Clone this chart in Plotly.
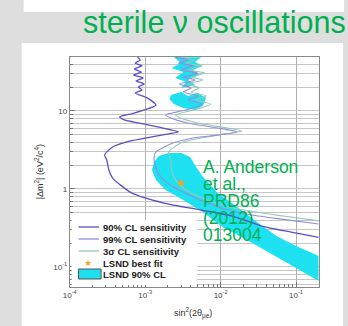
import plotly.graph_objects as go

# ---------------- data (sin^2(2theta), |dm^2| in eV^2) ----------------
sens90_x = [7.9e-4, 8.6e-4, 7.4e-4, 9.1e-4, 7.2e-4, 8.9e-4, 7.0e-4, 9.4e-4, 7.6e-4, 9.7e-4,
            8.1e-4, 9.1e-4, 7.4e-4, 1.06e-3, 1.39e-3, 9.7e-4, 6.6e-4, 4.6e-4, 5.3e-4, 8.4e-4,
            1.52e-3, 2.77e-3, 2.05e-3, 1.13e-3, 6.2e-4, 3.7e-4, 2.9e-4, 3.1e-4, 3.3e-4, 3.7e-4,
            6.6e-4, 1.77e-3, 5.3e-3, 1.43e-2, 3.5e-2, 8.6e-2, 0.2]
sens90_y = [49, 45, 41, 38, 34.5, 31.6, 28.9, 26.5, 24.2, 22.2,
            20.3, 18.6, 17.0, 14.7, 11.9, 10.3, 9.2, 8.4, 7.7, 7.0,
            6.2, 5.4, 5.1, 4.6, 4.1, 3.45, 2.73, 2.35, 1.75, 1.38,
            0.89, 0.66, 0.54, 0.45, 0.335, 0.28, 0.24]

sens99_x = [2.53e-3, 3.7e-3, 2.77e-3, 4.3e-3, 3.0e-3, 5.0e-3, 3.2e-3, 4.6e-3, 2.85e-3, 4.07e-3,
            3.2e-3, 5.0e-3, 3.7e-3, 5.8e-3, 4.3e-3, 3.0e-3, 1.87e-3, 2.38e-3, 4.3e-3, 9.1e-3,
            1.66e-2, 9.1e-3, 4.3e-3, 2.38e-3, 1.39e-3, 1.31e-3, 1.39e-3, 1.66e-3, 2.24e-3, 3.2e-3,
            5.8e-3, 1.16e-2, 2.6e-2, 6.4e-2, 0.2]
sens99_y = [49, 45, 41, 38, 33.5, 30.7, 27.3, 25, 22.2, 19.7,
            17.5, 15.6, 13.8, 12.3, 10.9, 10, 8.9, 7.9, 6.8, 6.05,
            5.4, 4.9, 4.5, 3.9, 2.98, 2.5, 1.86, 1.38, 1.09, 0.915,
            0.70, 0.55, 0.464, 0.41, 0.355]

sens3s_x = [3.0e-3, 4.6e-3, 3.5e-3, 5.5e-3, 3.84e-3, 6.2e-3, 4.07e-3, 5.8e-3, 3.7e-3, 5.2e-3,
            4.07e-3, 6.4e-3, 4.7e-3, 7.4e-3, 5.5e-3, 3.84e-3, 2.53e-3, 3.2e-3, 5.8e-3, 1.23e-2,
            1.93e-2, 1.13e-2, 5.5e-3, 3.0e-3, 2.05e-3, 2.18e-3, 2.24e-3, 2.53e-3, 3.2e-3, 4.3e-3,
            6.8e-3, 1.27e-2, 2.77e-2, 6.8e-2, 0.2]
sens3s_y = [49, 45, 41, 38, 33.5, 30.7, 27.3, 25, 22.2, 19.7,
            17.5, 15.6, 13.8, 12.3, 10.9, 10, 8.9, 7.9, 6.8, 6.05,
            5.5, 5.07, 4.5, 3.9, 2.98, 2.35, 1.75, 1.30, 1.03, 0.86,
            0.72, 0.59, 0.51, 0.45, 0.39]

lsnd_band_x = [1.31e-3, 1.52e-3, 2.05e-3, 3.03e-3, 3.96e-3, 4.73e-3, 5.83e-3, 9.1e-3, 1.66e-2,
               3.03e-2, 5.5e-2, 0.1, 0.2, 0.2, 0.1, 4.7e-2, 2.24e-2, 1.06e-2, 5.8e-3, 3.2e-3,
               1.87e-3, 1.39e-3, 1.23e-3]
lsnd_band_y = [2.22, 2.65, 2.89, 2.89, 2.57, 1.91, 1.43, 0.89, 0.588,
               0.377, 0.25, 0.186, 0.138, 0.066, 0.097, 0.147, 0.222, 0.326, 0.507, 0.72,
               0.97, 1.30, 1.75]

lsnd_blob1_x = [2.2e-3, 3.0e-3, 3.7e-3, 5.0e-3, 6.4e-3, 5.8e-3, 4.6e-3, 3.2e-3, 2.4e-3, 2.1e-3]
lsnd_blob1_y = [16.0, 17.5, 15.6, 17.0, 14.7, 11.6, 10.3, 10.9, 12.3, 14.2]

lsnd_blob2_x = [2.38e-3, 5.5e-3, 4.6e-3, 5.8e-3, 4.3e-3, 5.2e-3, 3.7e-3, 4.6e-3, 3.0e-3,
                3.5e-3, 2.5e-3, 3.2e-3, 2.24e-3, 3.0e-3]
lsnd_blob2_y = [49, 49, 42.5, 37.8, 33.5, 28.9, 25, 21.5, 19.7,
                23.5, 26.5, 31.6, 35.6, 41.2]

best_fit_x = [3.0e-3]
best_fit_y = [1.19]

x_tick_vals = [1e-4, 1e-3, 1e-2, 1e-1]
x_tick_text = ["10<sup>-4</sup>", "10<sup>-3</sup>", "10<sup>-2</sup>", "10<sup>-1</sup>"]
y_tick_vals = [0.1, 1, 10]
y_tick_text = ["10<sup>-1</sup>", "1", "10"]

legend_names = ["90% CL sensitivity", "99% CL sensitivity", "3σ CL sensitivity",
                "LSND best fit", "LSND 90% CL"]

# ---------------- styling ----------------
W, H = 348, 326
C90, C99, C3S = "#5a4fc6", "#8f8fd8", "#93c9b6"
CYAN = "#1de1f0"
ORANGE = "#f2a32a"
GREEN = "#00b050"
BG = "#dedede"
GRID = "#c6c6c6"
FONT = "Liberation Sans, Arial, sans-serif"

def px(x):
    return x / W

def py(y):
    return 1 - y / H

x_minor = [k * d for d in [1e-4, 1e-3, 1e-2, 1e-1] for k in range(2, 10) if k * d <= 0.2]
y_minor = [k * d for d in [0.01, 0.1, 1, 10] for k in range(2, 10) if 0.055 <= k * d <= 49]

fig = go.Figure()

for bx, by in [(lsnd_band_x, lsnd_band_y), (lsnd_blob1_x, lsnd_blob1_y), (lsnd_blob2_x, lsnd_blob2_y)]:
    fig.add_trace(go.Scatter(x=bx, y=by, mode="lines", fill="toself", fillcolor=CYAN,
                             line=dict(width=0, color=CYAN), name=legend_names[4],
                             showlegend=False, hoverinfo="skip"))

fig.add_trace(go.Scatter(x=sens3s_x, y=sens3s_y, mode="lines", name=legend_names[2],
                         line=dict(color=C3S, width=1.1, shape="spline", smoothing=0.6), showlegend=False))
fig.add_trace(go.Scatter(x=sens99_x, y=sens99_y, mode="lines", name=legend_names[1],
                         line=dict(color=C99, width=1.1, shape="spline", smoothing=0.6), showlegend=False))
fig.add_trace(go.Scatter(x=sens90_x, y=sens90_y, mode="lines", name=legend_names[0],
                         line=dict(color=C90, width=1.3, shape="spline", smoothing=0.6), showlegend=False))
fig.add_trace(go.Scatter(x=best_fit_x, y=best_fit_y, mode="markers", name=legend_names[3],
                         marker=dict(symbol="star", size=7, color=ORANGE), showlegend=False))

# axes
x0p, x1p, y0p, y1p = 64, 318, 57, 287
fig.update_layout(
    width=W, height=H, margin=dict(l=0, r=0, t=0, b=0),
    paper_bgcolor=BG, plot_bgcolor="white", showlegend=False,
    font=dict(family=FONT, size=8, color="#444"),
    xaxis=dict(type="log", domain=[px(x0p), px(x1p)], range=[-4, -0.701],
               tickvals=x_tick_vals, ticktext=x_tick_text, ticks="inside", ticklen=5,
               tickcolor="#777", showline=True, linecolor="#888", mirror=True,
               showgrid=True, gridcolor="#b0b0b0", gridwidth=1, zeroline=False,
               tickfont=dict(size=8, color="#444"),
               minor=dict(tickvals=x_minor, ticks="inside", ticklen=3, tickcolor="#777",
                          showgrid=False)),
    yaxis=dict(type="log", domain=[py(y1p), py(y0p)], range=[-1.257, 1.692],
               tickvals=y_tick_vals, ticktext=y_tick_text, ticks="inside", ticklen=5,
               tickcolor="#777", showline=True, linecolor="#888", mirror=True,
               showgrid=True, gridcolor=GRID, gridwidth=1, zeroline=False,
               tickfont=dict(size=8, color="#444"),
               minor=dict(tickvals=y_minor, ticks="inside", ticklen=3, tickcolor="#777",
                          showgrid=True, gridcolor=GRID, gridwidth=1)),
)

shapes = [
    dict(type="rect", xref="paper", yref="paper", x0=px(17), x1=px(344), y0=py(12), y1=py(0),
         fillcolor="white", line=dict(width=0), layer="below"),
    dict(type="rect", xref="paper", yref="paper", x0=px(15), x1=px(343), y0=py(326), y1=py(43),
         fillcolor="white", line=dict(width=0), layer="below"),
    # legend background
    dict(type="rect", xref="paper", yref="paper", x0=px(66), x1=px(194), y0=py(285), y1=py(220),
         fillcolor="white", line=dict(width=0), layer="above"),
]
leg_y = [227, 239, 251, 263, 274]
for yy, col in zip(leg_y[:3], [C90, C99, C3S]):
    shapes.append(dict(type="line", xref="paper", yref="paper", x0=px(73), x1=px(94),
                       y0=py(yy), y1=py(yy), line=dict(color=col, width=1.3), layer="above"))
shapes.append(dict(type="rect", xref="paper", yref="paper", x0=px(73), x1=px(96),
                   y0=py(279), y1=py(269), fillcolor=CYAN, line=dict(color="#555", width=1),
                   layer="above"))
fig.update_layout(shapes=shapes)

def note(text, x, y, size, color, xanchor="center", angle=0, family=FONT):
    return dict(text=text, x=px(x), y=py(y), xref="paper", yref="paper", xanchor=xanchor,
                yanchor="middle", showarrow=False, textangle=angle, borderpad=0,
                font=dict(size=size, color=color, family=family))

ann = [note("sterile ν oscillations", 212, 22, 30.5, GREEN)]
for name, yy in zip(legend_names, leg_y):
    ann.append(note("<b>" + name + "</b>", 97, yy, 9.5, "#222", xanchor="left"))
ann.append(note("★", 83, 263, 9, ORANGE, family="DejaVu Sans"))
ann.append(note("|Δm<sup>2</sup>| (eV<sup>2</sup>/c<sup>4</sup>)", 33, 172, 9, "#333", angle=-90))
ann.append(note("sin<sup>2</sup>(2θ<sub>μe</sub>)", 190, 313, 9, "#333"))
for t, yy in zip(["A. Anderson", "et al.,", "PRD86", "(2012)", "013004"], [167, 184, 201, 218, 235]):
    ann.append(note(t, 199, yy, 17.5, GREEN, xanchor="left"))
fig.update_layout(annotations=ann)

fig.write_html("out.html")
